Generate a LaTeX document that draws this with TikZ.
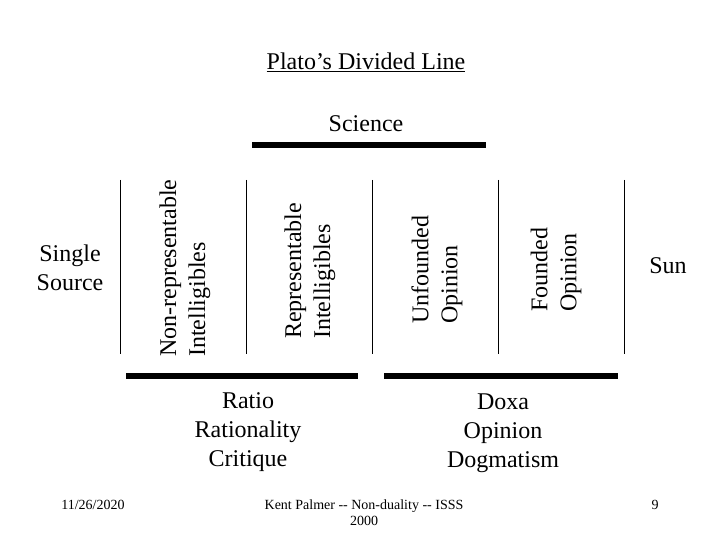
\documentclass[tikz,border=0pt]{standalone}
\usepackage{fontspec}
\setmainfont{Liberation Serif}
\usepackage{tikz}

\begin{document}
\begin{tikzpicture}[x=1pt,y=-1pt,
  big/.style={font=\fontsize{24}{29}\selectfont, inner sep=0pt},
  sidebox/.style={big, rotate=90, anchor=west, align=left},
  lower/.style={big, align=center, anchor=north},
  small/.style={font=\fontsize{14}{16}\selectfont, inner sep=0pt}]
\useasboundingbox (0,0) rectangle (720,540);

% title
\node[big] (title) at (366,62) {\underline{Plato’s Divided Line}};
\node[big] (science) at (366,124) {Science};

% thick bars
\draw[line width=6pt] (252,145) -- (486,145);
\draw[line width=6pt] (126,376) -- (358,376);
\draw[line width=6pt] (384,376) -- (618,376);

% dividers
\draw (120,180) -- (120,354);
\draw (246,180) -- (246,354);
\draw (372,180) -- (372,354);
\draw (498,180) -- (498,354);
\draw (624,180) -- (624,354);

% segments
\node[big, align=center] (source) at (70,268) {Single\\Source};
\node[sidebox] (nonrep) at (185,357) {Non-representable\\Intelligibles};
\node[sidebox] (rep) at (310,339) {Representable\\Intelligibles};
\node[sidebox] (unfounded) at (437,324) {Unfounded\\Opinion};
\node[sidebox] (founded) at (556,312) {Founded\\Opinion};
\node[big] (sun) at (668,266) {Sun};

% under the bars
\node[lower] (ratio) at (248,392) {Ratio\\Rationality\\Critique};
\node[lower] (doxa) at (503,394) {Doxa\\Opinion\\Dogmatism};

% footer
\node[small, anchor=base] (date) at (93,509) {11/26/2020};
\node[small, align=center, anchor=north] (footer) at (364,500) {Kent Palmer -{}- Non-duality -{}- ISSS\\2000};
\node[small, anchor=base] (page) at (655,509) {9};

\end{tikzpicture}
\end{document}
